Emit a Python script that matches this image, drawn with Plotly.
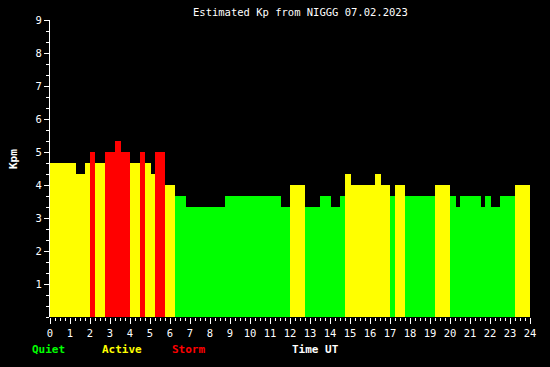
import plotly.graph_objects as go

# Segment start/end times (hours UT) and estimated Kp values
seg_start = [0.0, 1.3, 1.75, 2.0, 2.25, 2.75, 3.25, 3.55, 4.0, 4.5, 4.75, 5.05, 5.25, 5.75,
             6.25, 6.8, 8.75, 11.55, 12.0, 12.75, 13.5, 14.05, 14.5, 14.75, 15.05, 16.25,
             16.55, 17.0, 17.25, 17.75, 19.25, 20.0, 20.3, 20.5, 21.55, 21.75, 22.05, 22.5, 23.25]
seg_end = seg_start[1:] + [24.0]
kp_values = [4.667, 4.333, 4.667, 5.0, 4.667, 5.0, 5.333, 5.0, 4.667, 5.0, 4.667, 4.333, 5.0, 4.0,
             3.667, 3.333, 3.667, 3.333, 4.0, 3.333, 3.667, 3.333, 3.667, 4.333, 4.0, 4.333,
             4.0, 3.667, 4.0, 3.667, 4.0, 3.667, 3.333, 3.667, 3.333, 3.667, 3.333, 3.667, 4.0]

x_ticks = list(range(0, 25))
y_ticks = list(range(1, 10))

GREEN, YELLOW, RED = "#00FF00", "#FFFF00", "#FF0000"


def kp_color(v):
    if v >= 5:
        return RED
    if v >= 4:
        return YELLOW
    return GREEN


mids = [(s + e) / 2 for s, e in zip(seg_start, seg_end)]
widths = [e - s for s, e in zip(seg_start, seg_end)]
colors = [kp_color(v) for v in kp_values]

fig = go.Figure()
fig.add_trace(go.Bar(x=mids, y=kp_values, width=widths, marker=dict(color=colors, line=dict(width=0)),
                     hoverinfo="skip"))

W, H = 550, 367
L, R, T, B = 50, 20, 20, 50
pw, ph = W - L - R, H - T - B


def px(x):
    return (x - L) / pw


def py(y):
    return (H - B - y) / ph


mono = "DejaVu Sans Mono"
fig.update_layout(
    width=W, height=H,
    margin=dict(l=L, r=R, t=T, b=B, pad=0),
    paper_bgcolor="black", plot_bgcolor="black",
    showlegend=False,
    bargap=0,
    xaxis=dict(range=[0, 24], tickvals=x_ticks, ticktext=[str(t) for t in x_ticks],
               ticks="outside", ticklen=6, tickcolor="white", tickwidth=1,
               showgrid=False, zeroline=False, showline=False,
               tickfont=dict(family=mono, size=10.5, color="white"),
               minor=dict(dtick=0.25, tick0=0, ticks="outside", ticklen=3, tickcolor="white",
                          showgrid=False),
               fixedrange=True),
    yaxis=dict(range=[0, 9], tickvals=y_ticks, ticktext=[str(t) for t in y_ticks],
               ticks="outside", ticklen=5, tickcolor="white", tickwidth=1,
               showgrid=False, zeroline=False, showline=True, linecolor="white", linewidth=1,
               tickfont=dict(family=mono, size=10.5, color="white"),
               minor=dict(dtick=1 / 3, tick0=0, ticks="outside", ticklen=3, tickcolor="white",
                          showgrid=False),
               fixedrange=True),
    annotations=[
        dict(text="Estimated Kp from NIGGG 07.02.2023", xref="paper", yref="paper",
             x=px(300), y=py(12), xanchor="center", yanchor="middle", showarrow=False,
             font=dict(family=mono, size=10.5, color="white")),
        dict(text="<b>Kpm</b>", xref="paper", yref="paper", x=px(13), y=py(159),
             xanchor="center", yanchor="middle", showarrow=False, textangle=-90,
             font=dict(family=mono, size=11, color="white")),
        dict(text="<b>Quiet</b>", xref="paper", yref="paper", x=px(30), y=py(349),
             xanchor="left", yanchor="middle", showarrow=False,
             font=dict(family=mono, size=11, color=GREEN)),
        dict(text="<b>Active</b>", xref="paper", yref="paper", x=px(100), y=py(349),
             xanchor="left", yanchor="middle", showarrow=False,
             font=dict(family=mono, size=11, color=YELLOW)),
        dict(text="<b>Storm</b>", xref="paper", yref="paper", x=px(170), y=py(349),
             xanchor="left", yanchor="middle", showarrow=False,
             font=dict(family=mono, size=11, color=RED)),
        dict(text="<b>Time UT</b>", xref="paper", yref="paper", x=px(290), y=py(349),
             xanchor="left", yanchor="middle", showarrow=False,
             font=dict(family=mono, size=11, color="white")),
    ],
)

fig.write_html("out.html", config={"displayModeBar": False})

# remove the browser's default page margin so the chart sits at the window origin
with open("out.html", encoding="utf-8") as f:
    html = f.read()
html = html.replace("<head>", "<head><style>html,body{margin:0;padding:0;background:black;}</style>", 1)
with open("out.html", "w", encoding="utf-8") as f:
    f.write(html)
